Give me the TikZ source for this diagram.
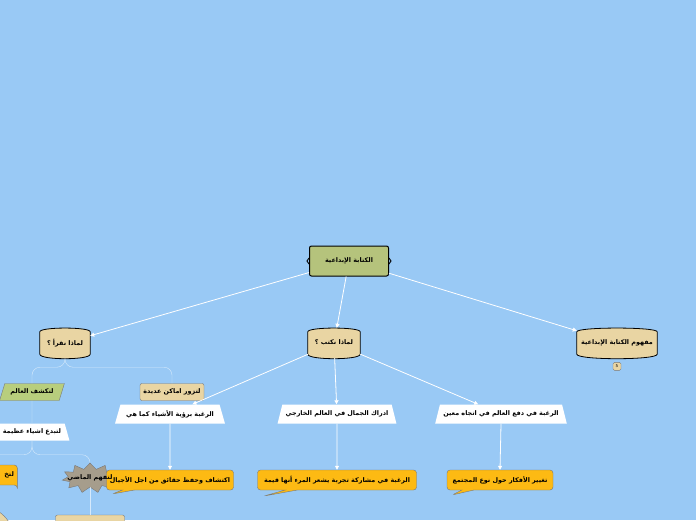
\documentclass[tikz,border=0pt]{standalone}
\usepackage{fontspec}
\usepackage{xcolor}
\usepackage{tikz}
\usetikzlibrary{arrows.meta,positioning,shapes.geometric,shapes.symbols,shapes.callouts,backgrounds}
\newfontfamily\arabicfont[Script=Arabic]{DejaVu Sans}
\TeXXeTstate=1
\newcommand{\artext}[1]{\beginR #1\endR}
\newcommand{\barrelshape}[1]{%
  \filldraw[fill=tan, line width=0.8pt]
    ([yshift=-4pt]#1.north west) .. controls ([yshift=1pt]#1.north west) and ([yshift=1pt]#1.north east) .. ([yshift=-4pt]#1.north east)
    -- ([yshift=4pt]#1.south east) .. controls ([yshift=-2pt]#1.south east) and ([yshift=-2pt]#1.south west) .. ([yshift=4pt]#1.south west)
    -- cycle;}
\definecolor{sky}{RGB}{153,201,245}
\definecolor{olive}{RGB}{181,195,124}
\definecolor{tan}{RGB}{233,213,163}
\definecolor{amber}{RGB}{253,186,19}
\definecolor{leaf}{RGB}{184,206,125}
\definecolor{stone}{RGB}{166,157,140}
\definecolor{edge}{RGB}{120,120,120}

\begin{document}
\begin{tikzpicture}[
  x=1pt, y=-1pt,
  every node/.style={font=\arabicfont\bfseries\fontsize{6.4}{7.5}\selectfont},
  root/.style={rectangle, draw, line width=1pt, rounded corners=2pt, fill=olive, minimum width=79pt, minimum height=30pt},
  barrel/.style={rectangle, minimum width=52pt, minimum height=30pt, inner sep=1pt},
  plain/.style={trapezium, trapezium stretches=true, trapezium left angle=70, trapezium right angle=70, fill=white, minimum height=19pt},
  leaning/.style={trapezium, trapezium stretches=true, trapezium left angle=70, trapezium right angle=110, fill=leaf, draw=edge, minimum width=65pt, minimum height=17pt},
  bubble/.style={rectangle callout, fill=amber, draw=edge, rounded corners=3pt, minimum height=20pt, callout pointer width=12pt},
  tag/.style={rectangle, rounded corners=2pt, fill=tan, draw=edge, minimum height=17pt},
  badge/.style={rectangle, rounded corners=1.5pt, fill=tan, draw=edge, minimum size=8pt, inner sep=0.5pt, font=\arabicfont\fontsize{4}{4}\selectfont},
  burst/.style={starburst, starburst points=11, starburst point height=6pt, random starburst=0, fill=stone, draw=edge, minimum width=56pt, minimum height=30pt},
  arrow/.style={-{Triangle[length=4pt,width=4pt]}, white, thick},
  branch/.style={white, opacity=0.6, thin, rounded corners=8pt}
]
\useasboundingbox (0,0) rectangle (696,520);
\clip (0,0) rectangle (696,520);

\node[root] (central) at (349,261) {\artext{الكتابة الإبداعية}};
\draw[line width=0.9pt] ([yshift=3pt]central.west) -- ([xshift=-2pt]central.west) -- ([yshift=-3pt]central.west);
\draw[line width=0.9pt] ([yshift=3pt]central.east) -- ([xshift=2pt]central.east) -- ([yshift=-3pt]central.east);

\node[barrel, minimum width=50pt] (read) at (65,343) {\artext{لماذا نقرأ ؟}};
\node[barrel] (write) at (334,343) {\artext{لماذا نكتب ؟}};
\node[barrel, minimum width=80pt] (concept) at (617,343) {\artext{مفهوم الكتابة الإبداعية}};
\node[badge, below=4pt of concept] (count) {5};

\node[plain, minimum width=110pt] (see) at (170,414) {\artext{الرغبة برؤية الأشياء كما هي}};
\node[plain, minimum width=116pt] (beauty) at (337,414) {\artext{ادراك الجمال في العالم الخارجي}};
\node[plain, minimum width=130pt] (push) at (501,414) {\artext{الرغبة في دفع العالم في اتجاه معين}};

\node[bubble, minimum width=159pt, callout absolute pointer={(264,496)}] (share) at (337,480) {\artext{الرغبة في مشاركة تجربة يشعر المرء أنها قيمة}};
\node[bubble, minimum width=106pt, callout absolute pointer={(452,495)}] (change) at (500,480) {\artext{تغيير الأفكار حول نوع المجتمع}};

% left branch
\node[leaning] (explore) at (32,392) {\artext{لتكشف العالم}};
\node[tag, minimum width=64pt] (visit) at (172,392) {\artext{لتزور اماكن عديدة}};
\node[plain, minimum width=75pt, minimum height=17pt] (create) at (32,432) {\artext{لتبدع اشياء عظيمة}};
\node[bubble, callout relative pointer={(0,0)}, text width=52pt, align=right] (learn) at (-12,475) {\artext{لتخ}};
\node[burst] (past) at (90,478) {};
\node[bubble, minimum width=127pt, callout absolute pointer={(112,494)}] (keep) at (170,480) {\artext{اكتشاف وحفظ حقائق من اجل الأجيال}};
\node (pasttext) at (past) {\artext{لتفهم الماضي}};
\node[tag, minimum width=69pt, minimum height=26pt] (deeper) at (90,528) {};
\node[ellipse, fill=tan, draw=edge, minimum size=68pt] (corner) at (-20,540) {};

\draw[arrow] (central) -- (read);
\draw[arrow] (central) -- (write);
\draw[arrow] (central) -- (concept);
\draw[arrow] (write) -- (see);
\draw[arrow] (write) -- (beauty);
\draw[arrow] (write) -- (push);
\draw[arrow] (see.south) -- (keep.north);
\draw[arrow] (beauty.south) -- (share.north);
\draw[arrow] (push.south) -- (change.north);

\draw[branch] (read.south) -- ++(0,9) -| (explore.north);
\draw[branch] (read.south) -- ++(0,9) -| (visit.north);
\draw[branch] (explore) -- (create);
\draw[branch] (create.south) -- ++(0,14) -| (learn.north);
\draw[branch] (create.south) -- ++(0,14) -| (past.north);
\draw[branch] (past) -- (deeper);

\begin{scope}[on background layer]
\fill[sky] (0,0) rectangle (696,520);
\barrelshape{read}
\barrelshape{write}
\barrelshape{concept}
\end{scope}
\end{tikzpicture}
\end{document}
